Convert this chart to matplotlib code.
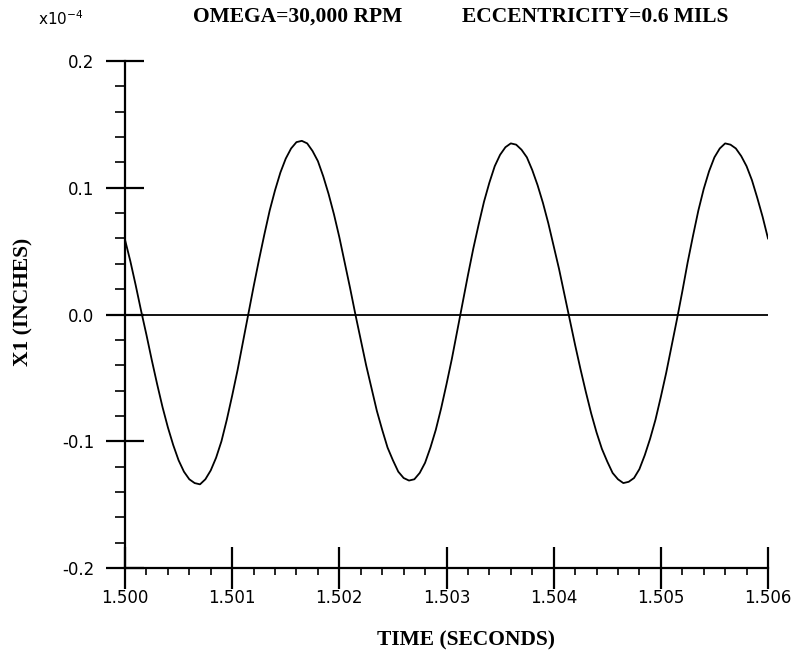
import numpy as np
import matplotlib
matplotlib.use("Agg")
import matplotlib.pyplot as plt
from matplotlib.ticker import MultipleLocator, FixedLocator

# Time (s) sampled every 0.00005 s, displacement X1 in units of 1e-4 inch
time_s = [round(1.5 + 0.00005 * i, 5) for i in range(121)]
x1_e4 = [
    0.059, 0.042, 0.023, 0.003, -0.016, -0.036, -0.055, -0.073, -0.089, -0.103,
    -0.115, -0.124, -0.130, -0.133, -0.134, -0.130, -0.123, -0.113, -0.100, -0.083,
    -0.064, -0.044, -0.022, 0.000, 0.022, 0.043, 0.063, 0.082, 0.098, 0.112,
    0.123, 0.131, 0.136, 0.137, 0.135, 0.129, 0.121, 0.109, 0.095, 0.079,
    0.061, 0.041, 0.021, 0.000, -0.020, -0.040, -0.058, -0.076, -0.091, -0.105,
    -0.115, -0.124, -0.129, -0.131, -0.130, -0.125, -0.117, -0.105, -0.091, -0.074,
    -0.055, -0.035, -0.013, 0.009, 0.031, 0.052, 0.071, 0.089, 0.104, 0.117,
    0.126, 0.132, 0.135, 0.134, 0.130, 0.124, 0.114, 0.102, 0.088, 0.072,
    0.054, 0.036, 0.016, -0.004, -0.024, -0.043, -0.061, -0.078, -0.093, -0.106,
    -0.116, -0.125, -0.130, -0.133, -0.132, -0.129, -0.122, -0.111, -0.098, -0.083,
    -0.065, -0.046, -0.025, -0.004, 0.018, 0.041, 0.062, 0.082, 0.099, 0.113,
    0.124, 0.131, 0.135, 0.134, 0.131, 0.125, 0.117, 0.106, 0.092, 0.077,
    0.060,
]
x_ticks = [1.500, 1.501, 1.502, 1.503, 1.504, 1.505, 1.506]
x_tick_labels = ["1.500", "1.501", "1.502", "1.503", "1.504", "1.505", "1.506"]
y_ticks = [-0.2, -0.1, 0.0, 0.1, 0.2]
y_tick_labels = ["-0.2", "-0.1", "0.0", "0.1", "0.2"]

W, H = 803, 664
fig = plt.figure(figsize=(W / 100, H / 100), dpi=100)
ax = fig.add_axes([125 / W, 1 - 568 / H, (768 - 125) / W, (568 - 61) / H])

ax.plot(time_s, x1_e4, color="black", lw=1.3)
ax.plot([x_ticks[0], x_ticks[-1]], [0, 0], color="black", lw=1.3)

ax.set_xlim(1.500, 1.506)
ax.set_ylim(-0.2, 0.2)

for s in ["top", "right"]:
    ax.spines[s].set_visible(False)
for s in ["left", "bottom"]:
    ax.spines[s].set_linewidth(1.6)

ax.xaxis.set_major_locator(FixedLocator(x_ticks))
ax.set_xticklabels(x_tick_labels)
ax.xaxis.set_minor_locator(MultipleLocator(0.0002))
ax.yaxis.set_major_locator(FixedLocator(y_ticks))
ax.set_yticklabels(y_tick_labels)
ax.yaxis.set_minor_locator(MultipleLocator(0.02))

ax.tick_params(axis="x", which="major", direction="inout", length=30, width=1.6,
               pad=0, labelsize=12)
ax.tick_params(axis="x", which="minor", direction="out", length=5, width=1.2)
ax.tick_params(axis="y", which="major", direction="inout", length=28, width=1.6,
               pad=8, labelsize=12)
ax.tick_params(axis="y", which="minor", direction="out", length=7, width=1.2)

serif = "Liberation Serif"
fig.text(38 / W, 1 - 25 / H, r"x10$^{-4}$", fontsize=11, ha="left", va="baseline")
fig.text(193 / W, 1 - 17 / H, "OMEGA=30,000 RPM", fontsize=15.5, family=serif,
         weight="bold", ha="left", va="center")
fig.text(462 / W, 1 - 17 / H, "ECCENTRICITY=0.6 MILS", fontsize=15.5, family=serif,
         weight="bold", ha="left", va="center")
fig.text(23 / W, 1 - 302 / H, "X1 (INCHES)", fontsize=15.5, family=serif,
         weight="bold", rotation=90, ha="center", va="center")
fig.text(466 / W, 1 - 640 / H, "TIME (SECONDS)", fontsize=15.5, family=serif,
         weight="bold", ha="center", va="center")

fig.savefig("out.png", dpi=100)
